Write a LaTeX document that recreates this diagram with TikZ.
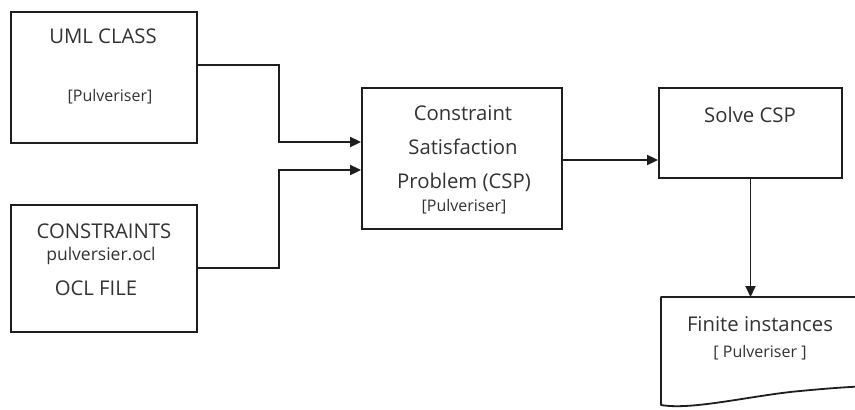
\documentclass[tikz,border=0pt]{standalone}
\usepackage{fontspec}
\setmainfont{Open Sans}
\usetikzlibrary{arrows.meta}
\definecolor{inkline}{HTML}{1E1E1E}
\definecolor{inktext}{HTML}{333333}
\tikzset{
  box/.style={draw=inkline, line width=1.8pt, fill=white, rectangle, inner sep=0pt},
  big/.style={text=inktext, font=\fontsize{20.3}{24}\selectfont, inner sep=0pt, anchor=center},
  small/.style={text=inktext, font=\fontsize{16}{18}\selectfont, inner sep=0pt, anchor=center},
  wire/.style={draw=inkline, line width=1.8pt},
  arr/.style={wire, -{Triangle[length=11pt,width=10pt]}},
}
\begin{document}
\begin{tikzpicture}[x=1pt,y=-1pt]
  \clip (0,0) rectangle (855,410);
  \fill[white] (0,0) rectangle (855,410);

  % process boxes
  \node[box, minimum width=186pt, minimum height=131pt] (uml) at (104,77.5) {};
  \node[box, minimum width=186pt, minimum height=127pt] (cons) at (104,268.5) {};
  \node[box, minimum width=200pt, minimum height=141pt] (csp) at (462,158.5) {};
  \node[box, minimum width=183pt, minimum height=90pt] (solve) at (750.5,133) {};

  % document shape with wavy bottom edge
  \coordinate (docTL) at (661,297);
  \draw[wire, fill=white, line join=round]
    (870,297) -- (docTL) -- (661,405)
    .. controls (690,410) and (740,398) .. (790,392)
    .. controls (820,389) and (845,387) .. (870,386);

  % texts
  \node[big] (umlT) at (103,36) {UML CLASS};
  \node[small] (umlS) at (110,97) {[Pulveriser]};

  \node[big] (consT) at (104,231) {CONSTRAINTS};
  \node[small, font=\fontsize{17.5}{20}\selectfont] (consF) at (101,256) {pulversier.ocl};
  \node[big] (consO) at (96,288) {OCL FILE};

  \node[big] (cspA) at (463,113) {Constraint};
  \node[big] (cspB) at (463,147) {Satisfaction};
  \node[big] (cspC) at (464,182) {Problem (CSP)};
  \node[small] (cspS) at (464,207) {[Pulveriser]};

  \node[big] (solveT) at (750,115) {Solve CSP};

  \node[big] (docT) at (760,324) {Finite instances};
  \node[small] (docS) at (760,353) {[ Pulveriser ]};

  % connectors
  \coordinate (jA) at (279,142);
  \coordinate (jB) at (279,170);
  \draw[arr] ([yshift=-54pt]uml.north east) -| (jA) -- (jA -| csp.west);
  \draw[arr] ([yshift=-64pt]cons.north east) -| (jB) -- (jB -| csp.west);
  \draw[arr] ([yshift=-1.5pt]csp.east) -- ([yshift=-1.5pt]csp.east -| solve.west);
  \draw[arr] (solve.south) -- (solve.south |- docTL);
\end{tikzpicture}
\end{document}
